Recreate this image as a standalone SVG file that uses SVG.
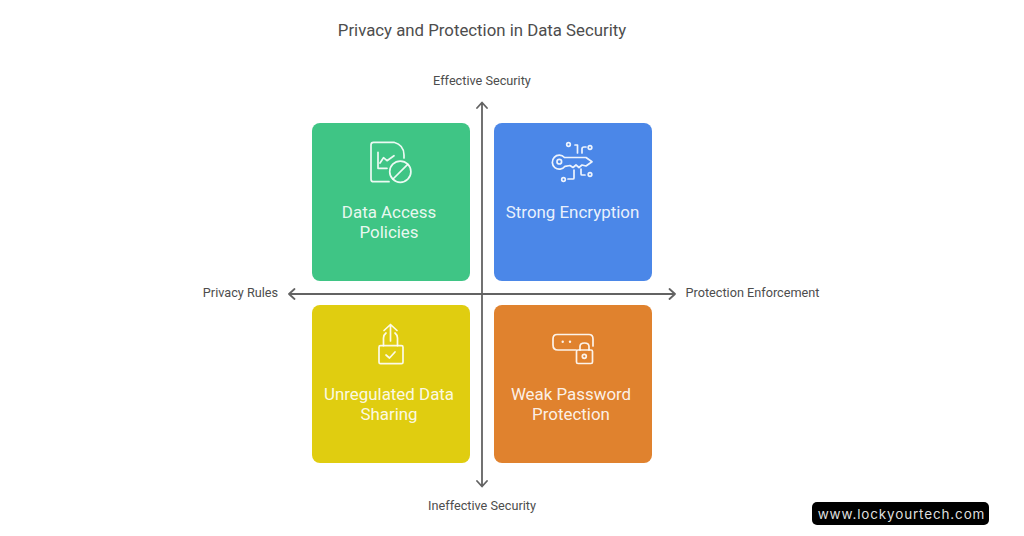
<svg xmlns="http://www.w3.org/2000/svg" width="1024" height="536" viewBox="0 0 1024 536">
<style>
.card{stroke:none}
.ic{fill:none;stroke:#fff;stroke-opacity:.9;stroke-width:1.7;stroke-linecap:round;stroke-linejoin:round}
.lb{font-family:Roboto,"Liberation Sans",sans-serif;font-size:16.9px;fill:#fff;fill-opacity:.9;text-anchor:middle}
.ax{font-family:Roboto,"Liberation Sans",sans-serif;font-size:12.7px;fill:#4d4d4d;text-anchor:middle}
.cn{fill:none;stroke:#636363;stroke-width:1.8;stroke-linecap:round;stroke-linejoin:round}
</style>
<rect width="1024" height="536" fill="#fff"/>
<text id="title" x="482" y="36" font-family="Roboto,'Liberation Sans',sans-serif" font-size="16.800" fill="#4d4d4d" text-anchor="middle">Privacy and Protection in Data Security</text>
<g id="connectors">
<path class="cn" d="M482 103V486M477 108L482 102.500L487 108M477 481L482 486.500L487 481"/>
<path class="cn" d="M289 294H675M294.500 289L289 294L294.500 299M669.500 289L675 294L669.500 299"/>
</g>
<g id="axis-top"><text class="ax" x="482" y="85">Effective Security</text></g>
<g id="axis-bottom"><text class="ax" x="482" y="510">Ineffective Security</text></g>
<g id="axis-left"><text class="ax" x="240.500" y="297">Privacy Rules</text></g>
<g id="axis-right"><text class="ax" x="752.500" y="297">Protection Enforcement</text></g>
<g id="node-data-access">
<rect class="card" x="312" y="123" width="158" height="158" rx="8" fill="#3fc585"/>
<path class="ic" d="M389 181.700H373.500Q371 181.700 371 179.200V144.800Q371 142.300 373.500 142.300H394Q404 145 404 155V158"/>
<path class="ic" d="M378 152.300V168.300H387M380 163L383.500 157.700L387 160.700L394 155.700"/>
<circle class="ic" cx="400.300" cy="171.700" r="10.600"/>
<path class="ic" d="M393 179L407.700 164.300"/>
<text class="lb" x="389" y="218">Data Access</text>
<text class="lb" x="389" y="238">Policies</text>
</g>
<g id="node-strong-encryption">
<rect class="card" x="494" y="123" width="158" height="158" rx="8" fill="#4b87e8"/>
<path class="ic" d="M564.500 157.500H586L592 161.700L586 166L582 165L579 167.500L576 165L573 167.500L570 165.500L565 166.300A7 7 0 1 1 564.500 157.500Z"/>
<circle class="ic" cx="559.300" cy="161.700" r="2.300"/>
<circle class="ic" cx="568.500" cy="144.500" r="1.800"/>
<path class="ic" d="M575 145H577.500V153"/>
<path class="ic" d="M582 153V149Q582 147 584 147H586"/>
<circle class="ic" cx="590" cy="147.500" r="1.800"/>
<circle class="ic" cx="563.500" cy="179.500" r="1.800"/>
<path class="ic" d="M568 179H573Q574 179 574 178V170"/>
<path class="ic" d="M581 169V174Q581 175 582 175H585"/>
<circle class="ic" cx="590" cy="174.500" r="1.800"/>
<text class="lb" x="572.500" y="218">Strong Encryption</text>
</g>
<g id="node-unregulated">
<rect class="card" x="312" y="305" width="158" height="158" rx="8" fill="#e0cd10"/>
<rect class="ic" x="379" y="345.700" width="24" height="18" rx="1.500"/>
<path class="ic" d="M383.500 345.700V338Q383.500 335 386 333M397.500 345.700V338Q397.500 335 395 333"/>
<path class="ic" d="M390.500 341V325M384 330.500L390.500 324.500L397 330.500"/>
<path class="ic" d="M386 355L389.500 358L395 352"/>
<text class="lb" x="389" y="400">Unregulated Data</text>
<text class="lb" x="389" y="420">Sharing</text>
</g>
<g id="node-weak-password">
<rect class="card" x="494" y="305" width="158" height="158" rx="8" fill="#e0822e"/>
<path class="ic" d="M576 350H558Q553 350 553 345V339Q553 334.500 557 334.500H589Q593 334.500 593 339V346"/>
<rect class="ic" x="576.500" y="350" width="16" height="13.500" rx="1.500"/>
<path class="ic" d="M580 350V346.500Q580 343 584.500 343Q589 343 589 346.500V350"/>
<circle class="ic" cx="584.300" cy="356.300" r="2"/>
<circle cx="562.700" cy="341.700" r="1.200" fill="#fff" fill-opacity=".9"/>
<circle cx="570" cy="341.700" r="1.200" fill="#fff" fill-opacity=".9"/>
<text class="lb" x="571" y="400">Weak Password</text>
<text class="lb" x="571" y="420">Protection</text>
</g>
<g id="badge">
<rect x="812" y="502" width="177" height="23" rx="5" fill="#000"/>
<text x="901.500" y="518.500" font-family="Inter,'Liberation Sans',sans-serif" font-size="13.500" letter-spacing="0.850" fill="#dedede" text-anchor="middle">www.lockyourtech.com</text>
</g>
</svg>
